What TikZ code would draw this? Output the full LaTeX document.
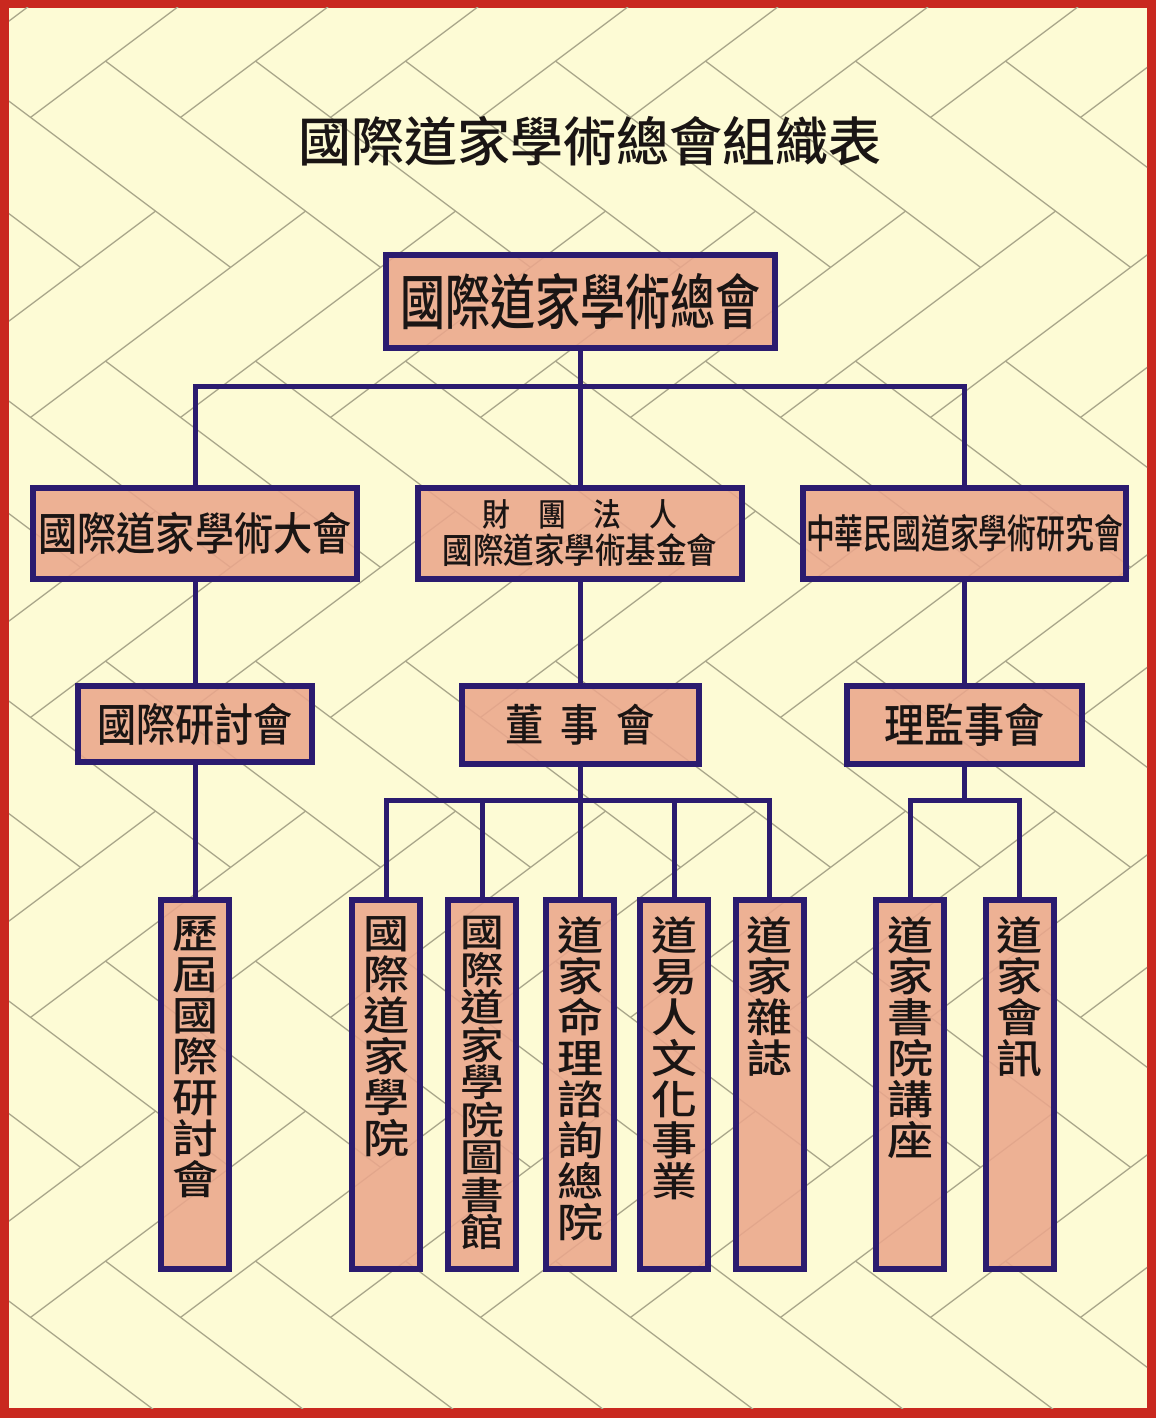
\documentclass[tikz,border=0pt]{standalone}
\usepackage{fontspec}
\newfontfamily\cjk{Noto Sans CJK TC Medium}
\newfontfamily\cjkN[FakeStretch=0.75]{Noto Sans CJK TC Medium}
\newfontfamily\cjkM[FakeStretch=0.87]{Noto Sans CJK TC Medium}
\newfontfamily\cjkS[FakeStretch=0.72]{Noto Sans CJK TC Medium}
\newfontfamily\cjkW[FakeStretch=1.15]{Noto Sans CJK TC Medium}
\definecolor{paper}{HTML}{FDFBD5}
\definecolor{framered}{HTML}{C9281F}
\definecolor{grain}{HTML}{A9A68A}
\definecolor{boxfill}{HTML}{EBA78C}
\definecolor{boxline}{HTML}{2B1B6F}
\definecolor{inkblack}{HTML}{1A1514}

\begin{document}
\begin{tikzpicture}[x=1pt, y=-1pt,
  orgbox/.style={draw=boxline, line width=6pt, fill=boxfill, fill opacity=0.88, text opacity=1,
    inner sep=0pt, text=inkblack},
  tallbox/.style={orgbox, minimum width=68pt, minimum height=369pt,
    font=\cjkW\fontsize{40}{41}\selectfont},
  link/.style={draw=boxline, line width=5pt},
  parquet/.style={draw=grain, line width=1.3pt}]
  \fill[framered] (0,0) rectangle (1156,1418);
  \fill[paper] (9,8) rectangle (1147,1408);
  \begin{scope}
    \clip (9,8) rectangle (1147,1408);
    \foreach \k in {-1,...,5} {
      \foreach \n in {-2,...,7} {
        \draw[parquet] (30.5+150*\n, 117.4+300*\k) -- ++(275,-206.25);
        \draw[parquet] (105.5+150*\n, 61.1+300*\k) -- ++(275,206.25);
      }
    }
  \end{scope}

  \node[text=inkblack, font=\cjk\fontsize{53}{60}\selectfont] (title) at (590,141) {國際道家學術總會組織表};

  \node[orgbox, minimum width=389pt, minimum height=93pt, font=\cjkN\fontsize{60}{64}\selectfont]
    (zonghui) at (580,301.5) {國際道家學術總會};

  \node[orgbox, minimum width=324pt, minimum height=91pt, font=\cjkM\fontsize{45}{50}\selectfont]
    (dahui) at (195,533.5) {國際道家學術大會};
  \node[orgbox, minimum width=324pt, minimum height=91pt, align=center, font=\cjkM\fontsize{35}{37}\selectfont]
    (jijinhui) at (580,533.5) {{\fontsize{32}{37}\selectfont 財\hspace{28pt}團\hspace{28pt}法\hspace{28pt}人}\\國際道家學術基金會};
  \node[orgbox, minimum width=323pt, minimum height=91pt, font=\cjkS\fontsize{40}{44}\selectfont]
    (yanjiuhui) at (964.5,533.5) {中華民國道家學術研究會};

  \node[orgbox, minimum width=234pt, minimum height=76pt, font=\cjkM\fontsize{45}{50}\selectfont]
    (yantaohui) at (195,724) {國際研討會};
  \node[orgbox, minimum width=237pt, minimum height=78pt, font=\cjkM\fontsize{44}{50}\selectfont]
    (dongshihui) at (580,725) {董\hspace{17pt}事\hspace{17pt}會};
  \node[orgbox, minimum width=235pt, minimum height=78pt, font=\cjkM\fontsize{46}{50}\selectfont]
    (lijianshihui) at (964.5,725) {理監事會};

  \node[tallbox] (lijie) at (195,1084.5) {\parbox[c][360pt][t]{66pt}{\centering\vspace*{12pt}歷\\屆\\國\\際\\研\\討\\會}};
  \node[tallbox] (xueyuan) at (386,1084.5) {\parbox[c][360pt][t]{66pt}{\centering\vspace*{12pt}國\\際\\道\\家\\學\\院}};
  \node[tallbox] (tushuguan) at (482,1084.5) {\parbox[c][360pt][t]{66pt}{\centering\fontsize{38}{37.5}\selectfont\vspace*{12pt}國\\際\\道\\家\\學\\院\\圖\\書\\館}};
  \node[tallbox] (mingli) at (580,1084.5) {\parbox[c][360pt][t]{66pt}{\centering\vspace*{12pt}道\\家\\命\\理\\諮\\詢\\總\\院}};
  \node[tallbox] (wenhua) at (674,1084.5) {\parbox[c][360pt][t]{66pt}{\centering\vspace*{12pt}道\\易\\人\\文\\化\\事\\業}};
  \node[tallbox] (zazhi) at (769.5,1084.5) {\parbox[c][360pt][t]{66pt}{\centering\vspace*{12pt}道\\家\\雜\\誌}};
  \node[tallbox] (shuyuan) at (910,1084.5) {\parbox[c][360pt][t]{66pt}{\centering\vspace*{12pt}道\\家\\書\\院\\講\\座}};
  \node[tallbox] (huixun) at (1019.5,1084.5) {\parbox[c][360pt][t]{66pt}{\centering\vspace*{12pt}道\\家\\會\\訊}};

  \foreach \b in {dahui, jijinhui, yanjiuhui}
    \draw[link] (zonghui.south) -- ++(0,35) -| (\b.north);
  \draw[link] (dahui.south) -- (yantaohui.north);
  \draw[link] (jijinhui.south) -- (dongshihui.north);
  \draw[link] (yanjiuhui.south) -- (lijianshihui.north);
  \draw[link] (yantaohui.south) -- (lijie.north);
  \foreach \b in {xueyuan, tushuguan, mingli, wenhua, zazhi}
    \draw[link] (dongshihui.south) -- ++(0,33) -| (\b.north);
  \foreach \b in {shuyuan, huixun}
    \draw[link] (lijianshihui.south) -- ++(0,33) -| (\b.north);
\end{tikzpicture}
\end{document}
